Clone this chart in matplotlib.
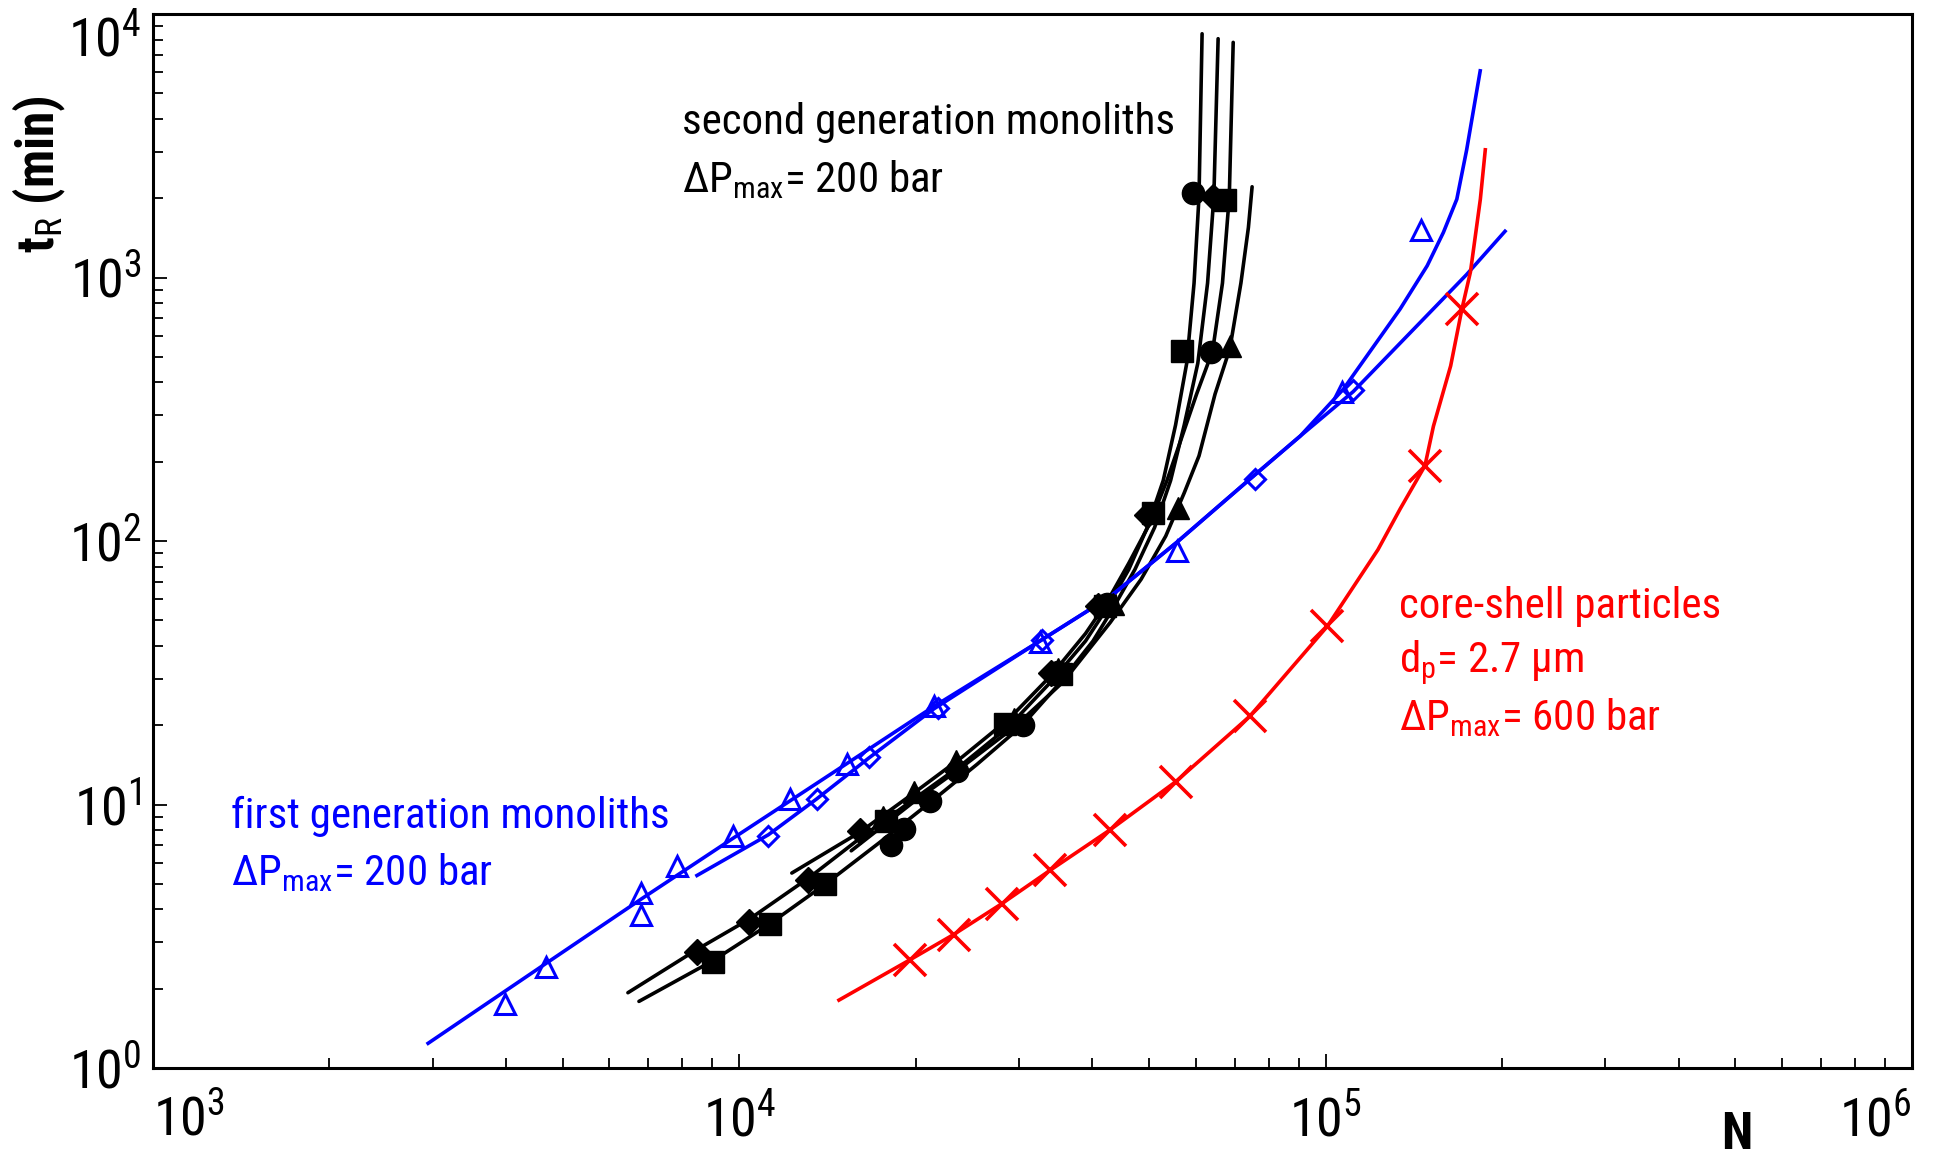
import math
import matplotlib
matplotlib.use('Agg')
import matplotlib.pyplot as plt
from matplotlib import font_manager as fm
from matplotlib.ticker import FixedLocator, LogLocator, FuncFormatter, NullFormatter

# pick a narrow sans font if one is installed, otherwise Liberation Sans
names = {f.name for f in fm.fontManager.ttflist}
narrow = None
for cand in ['Liberation Sans Narrow', 'Arial Narrow', 'Roboto Condensed', 'Open Sans Condensed',
             'DejaVu Sans Condensed', 'Noto Sans Condensed']:
    if cand in names:
        narrow = cand
        break
base = narrow if narrow else 'Liberation Sans'
scale = 1.0 if narrow else 0.87

plt.rcParams['font.family'] = [base, 'Liberation Sans', 'DejaVu Sans']
plt.rcParams['mathtext.fontset'] = 'custom'
plt.rcParams['mathtext.rm'] = base
plt.rcParams['mathtext.it'] = base + ':italic'
plt.rcParams['mathtext.bf'] = base + ':bold'
plt.rcParams['mathtext.default'] = 'regular'

# ---------------- data (N plates, tR in min) ----------------
x_ticks = [1e3, 1e4, 1e5, 1e6]
y_ticks = [1e0, 1e1, 1e2, 1e3, 1e4]

# first generation monoliths (blue)
blue_tri_N = [3978, 4688, 6808, 6808, 7834, 9750, 12180, 15290, 21470, 32560, 55760, 106700, 145600]
blue_tri_t = [1.75, 2.42, 4.62, 3.81, 5.86, 7.60, 10.5, 14.2, 23.6, 41.3, 91.7, 368.6, 1514]
blue_dia_N = [11210, 13550, 16610, 21780, 32880, 75660, 111400]
blue_dia_t = [7.60, 10.5, 15.15, 23.3, 42.2, 171.5, 372.7]
blue_curve1_N = [2946, 4689, 6809, 9746, 15290, 21470, 32560, 42920, 55750, 74210, 90490,
                 107200, 117600, 134000, 149000, 158800, 167400, 174000, 183500]
blue_curve1_t = [1.241, 2.501, 4.383, 7.434, 14.35, 23.57, 41.74, 61.54, 98.9, 171.5, 250.1,
                 376.9, 504.2, 759.8, 1108, 1483, 1983, 3053, 6087]
blue_curve2_N = [8468, 11210, 13550, 16610, 21470, 32560, 42920, 55750, 74210, 90490, 111400, 174000, 202300]
blue_curve2_t = [5.379, 7.678, 10.50, 14.98, 23.07, 41.74, 61.54, 98.9, 171.5, 250.1, 368.7, 1027, 1498]

# second generation monoliths (black)
blk_dia_N = [8468, 10380, 13100, 16050, 34010, 40890, 49640, 64150]
blk_dia_t = [2.756, 3.570, 5.151, 7.931, 31.54, 56.46, 125.4, 2027]
blk_sq_N = [9020, 11270, 14020, 17770, 28430, 35360, 42100, 50840, 56830, 67330]
blk_sq_t = [2.528, 3.532, 4.988, 8.646, 20.27, 31.20, 56.46, 128.2, 526.5, 1962]
blk_cir_N = [18120, 19110, 21160, 23540, 30420, 35020, 42300, 63840, 59360]
blk_cir_t = [7.043, 8.104, 10.27, 13.45, 20.05, 31.88, 57.69, 520.8, 2094]
blk_tri_N = [17600, 19870, 23430, 29410, 35020, 43340, 56010, 68660]
blk_tri_t = [8.929, 11.20, 14.67, 21.16, 32.58, 57.69, 133.8, 549.6]

blk_curve1_N = [6457, 8468, 10430, 13220, 16050, 19870, 24000, 28850, 34010, 38950, 42300,
                46160, 49640, 52850, 55470, 57950, 59650, 60820, 61560]
blk_curve1_t = [1.931, 2.817, 3.687, 5.321, 7.434, 10.50, 14.20, 19.83, 29.24, 41.74, 55.26,
                78.04, 112.6, 169.7, 275.6, 472.5, 952.6, 2027, 8415]
blk_curve2_N = [6743, 9020, 11210, 14020, 17270, 21260, 25430, 30280, 35360, 40110, 43340,
                47290, 51090, 54400, 57390, 60530, 62900, 64470, 65560]
blk_curve2_t = [1.790, 2.556, 3.494, 4.988, 7.120, 10.27, 14.20, 19.83, 29.24, 41.74, 55.26,
                78.04, 112.6, 169.7, 275.6, 472.5, 952.6, 2027, 8060]
blk_curve3_N = [12290, 16050, 19870, 24000, 28850, 34010, 38950, 42300, 46160, 50110, 53630,
                60240, 64150, 66690, 68500, 69560]
blk_curve3_t = [5.495, 7.846, 11.08, 15.15, 21.16, 30.86, 44.55, 58.32, 82.38, 116.3, 169.7,
                360.9, 526.5, 952.6, 2027, 7805]
blk_curve4_N = [15520, 19870, 24000, 29410, 35700, 42920, 48450, 53370, 57390, 60820, 64770,
                68660, 71700, 73840, 74920]
blk_curve4_t = [6.674, 10.27, 13.90, 19.62, 29.24, 49.09, 71.58, 104.4, 152.3, 210.5, 360.9,
                537.9, 952.6, 1548, 2210]

# core-shell particles (red)
red_x_N = [19580, 23200, 28020, 33860, 42910, 55490, 74210, 100700, 147700, 170800]
red_x_t = [2.58, 3.21, 4.20, 5.62, 8.02, 12.2, 21.6, 47.5, 193, 760]
red_curve_N = [14790, 19580, 23200, 28020, 33860, 42910, 55490, 74210, 100700, 122800, 134000,
               147700, 152700, 163400, 170800, 176600, 183600, 187200]
red_curve_t = [1.81, 2.58, 3.21, 4.20, 5.62, 8.02, 12.2, 21.6, 47.5, 92.7, 132.4,
               193, 272.6, 462, 760, 1050, 1982, 3053]

BLUE = '#0000ff'
RED = '#ff0000'

fig = plt.figure(figsize=(19.34, 11.59), dpi=100)
ax = fig.add_axes([0.0791, 0.0785, 0.9095, 0.9094])

lw = 2.6
for cN, ct in [(blk_curve1_N, blk_curve1_t), (blk_curve2_N, blk_curve2_t),
               (blk_curve3_N, blk_curve3_t), (blk_curve4_N, blk_curve4_t)]:
    ax.plot(cN, ct, color='black', lw=lw, solid_capstyle='round', solid_joinstyle='round', zorder=2)
ax.plot(blue_curve1_N, blue_curve1_t, color=BLUE, lw=lw, solid_joinstyle='round', zorder=3)
ax.plot(blue_curve2_N, blue_curve2_t, color=BLUE, lw=lw, solid_joinstyle='round', zorder=3)
ax.plot(red_curve_N, red_curve_t, color=RED, lw=lw, solid_joinstyle='round', zorder=3)

ax.plot(blue_tri_N, blue_tri_t, ls='none', marker='^', ms=14, mfc='none', mec=BLUE, mew=2.2, zorder=4)
ax.plot(blue_dia_N, blue_dia_t, ls='none', marker='D', ms=10, mfc='none', mec=BLUE, mew=2.2, zorder=4)
ax.plot(red_x_N, red_x_t, ls='none', marker='x', ms=23, mec=RED, mew=2.6, zorder=4)

ax.plot(blk_dia_N, blk_dia_t, ls='none', marker='D', ms=13, color='black', zorder=5)
ax.plot(blk_sq_N, blk_sq_t, ls='none', marker='s', ms=16, color='black', zorder=5)
ax.plot(blk_cir_N, blk_cir_t, ls='none', marker='o', ms=16, color='black', zorder=5)
ax.plot(blk_tri_N, blk_tri_t, ls='none', marker='^', ms=16, color='black', zorder=5)

ax.set_xscale('log')
ax.set_yscale('log')
ax.set_xlim(x_ticks[0], x_ticks[-1])
ax.set_ylim(y_ticks[0], y_ticks[-1])

fmt = FuncFormatter(lambda v, p: '10$^{%d}$' % round(math.log10(v)))
ax.xaxis.set_major_locator(FixedLocator(x_ticks))
ax.yaxis.set_major_locator(FixedLocator(y_ticks))
ax.xaxis.set_minor_locator(LogLocator(base=10, subs=range(2, 10), numticks=20))
ax.yaxis.set_minor_locator(LogLocator(base=10, subs=range(2, 10), numticks=20))
ax.xaxis.set_major_formatter(fmt)
ax.yaxis.set_major_formatter(fmt)
ax.xaxis.set_minor_formatter(NullFormatter())
ax.yaxis.set_minor_formatter(NullFormatter())

ax.tick_params(which='both', direction='in', top=False, right=False, width=1.3, labelsize=36 * scale + 3)
ax.tick_params(which='major', length=10)
ax.tick_params(which='minor', length=7)
ax.tick_params(axis='x', pad=19)
ax.tick_params(axis='y', pad=8)
for s in ax.spines.values():
    s.set_linewidth(2.2)

xt = ax.xaxis.get_major_ticks()
xt[0].label1.set_horizontalalignment('left')
xt[-1].label1.set_horizontalalignment('right')
yt = ax.yaxis.get_major_ticks()
yt[-1].label1.set_verticalalignment('top')

tfs = 31 * scale
ax.text(0.3008, 0.897, 'second generation monoliths', transform=ax.transAxes,
        fontsize=tfs, color='black', va='center', ha='left')
ax.text(0.3008, 0.843, 'ΔP$_{\\rm max}$= 200 bar', transform=ax.transAxes,
        fontsize=tfs, color='black', va='center', ha='left')
ax.text(0.0442, 0.2389, 'first generation monoliths', transform=ax.transAxes,
        fontsize=tfs, color=BLUE, va='center', ha='left')
ax.text(0.0442, 0.185, 'ΔP$_{\\rm max}$= 200 bar', transform=ax.transAxes,
        fontsize=tfs, color=BLUE, va='center', ha='left')
ax.text(0.7083, 0.438, 'core-shell particles', transform=ax.transAxes,
        fontsize=tfs, color=RED, va='center', ha='left')
ax.text(0.7083, 0.385, 'd$_{\\rm p}$= 2.7 µm', transform=ax.transAxes,
        fontsize=tfs, color=RED, va='center', ha='left')
ax.text(0.7083, 0.3326, 'ΔP$_{\\rm max}$= 600 bar', transform=ax.transAxes,
        fontsize=tfs, color=RED, va='center', ha='left')

fig.text(0.0205, 0.85, 't$_{\\rm R}$ (min)', rotation=90, fontsize=34 * scale + 3, fontweight='bold',
         ha='center', va='center')
fig.text(0.898, 0.021, 'N', fontsize=34 * scale + 3, fontweight='bold', ha='center', va='center')

fig.savefig('out.png', dpi=100)
